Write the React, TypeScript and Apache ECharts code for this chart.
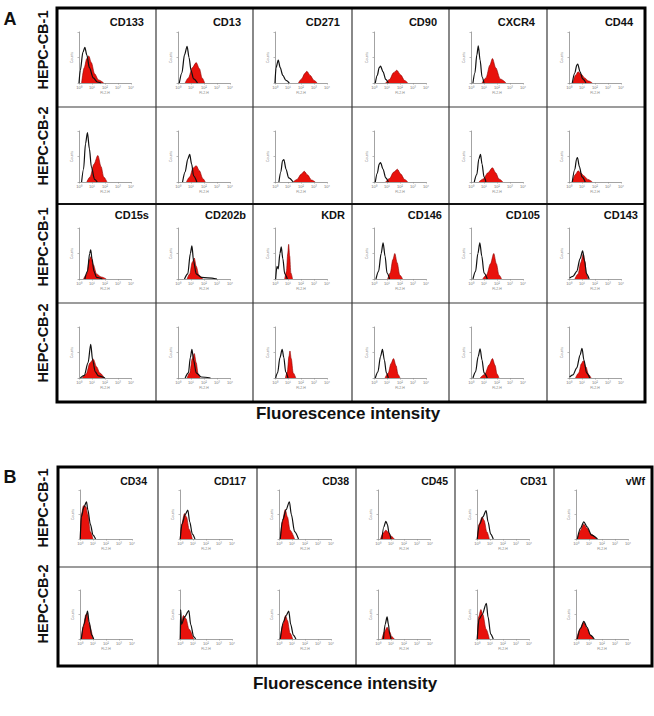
import React, { useEffect, useRef } from "react";
import * as echarts from "echarts";

// ---------- DATA ----------
const markersATop = ["CD133", "CD13", "CD271", "CD90", "CXCR4", "CD44"];
const markersABottom = ["CD15s", "CD202b", "KDR", "CD146", "CD105", "CD143"];
const markersB = ["CD34", "CD117", "CD38", "CD45", "CD31", "vWf"];
const rowLabels = ["HEPC-CB-1", "HEPC-CB-2"];
const decadeLabels = ["10⁰", "10¹", "10²", "10³", "10⁴"];

// x = log10 decade (0..4), y = fraction of counts axis
const A1_iso = [
  [[0, 0], [0.1, 0.25], [0.3, 0.6], [0.45, 0.7], [0.6, 0.55], [0.8, 0.3], [1.1, 0.1], [1.4, 0.02], [1.7, 0]],
  [[0.1, 0], [0.3, 0.2], [0.5, 0.55], [0.7, 0.72], [0.85, 0.5], [1.0, 0.25], [1.2, 0.08], [1.5, 0]],
  [[0, 0], [0.08, 0.3], [0.25, 0.45], [0.4, 0.3], [0.6, 0.15], [0.85, 0.05], [1.1, 0]],
  [[0.1, 0], [0.25, 0.15], [0.4, 0.3], [0.5, 0.33], [0.7, 0.22], [0.9, 0.07], [1.1, 0]],
  [[0.15, 0], [0.3, 0.2], [0.45, 0.55], [0.56, 0.73], [0.7, 0.45], [0.85, 0.12], [1.0, 0]],
  [[0.25, 0], [0.45, 0.2], [0.6, 0.35], [0.67, 0.37], [0.85, 0.22], [1.05, 0.08], [1.3, 0]],
];
const A1_red = [
  [[0.2, 0], [0.4, 0.3], [0.6, 0.48], [0.75, 0.53], [0.95, 0.4], [1.2, 0.18], [1.5, 0.06], [1.9, 0]],
  [[0.55, 0], [0.8, 0.1], [1.1, 0.3], [1.4, 0.4], [1.65, 0.28], [1.85, 0.1], [2.05, 0]],
  [[1.8, 0], [2.05, 0.08], [2.3, 0.19], [2.45, 0.23], [2.7, 0.15], [3.0, 0.05], [3.25, 0]],
  [[0.9, 0], [1.2, 0.07], [1.5, 0.2], [1.75, 0.25], [2.05, 0.16], [2.35, 0.05], [2.6, 0]],
  [[0.85, 0], [1.15, 0.1], [1.45, 0.35], [1.65, 0.48], [1.9, 0.3], [2.25, 0.08], [2.7, 0]],
  [[0.3, 0], [0.5, 0.15], [0.7, 0.22], [0.95, 0.17], [1.2, 0.1], [1.5, 0.04], [1.8, 0]],
];
const A2_iso = [
  [[0.2, 0], [0.35, 0.25], [0.5, 0.75], [0.65, 0.97], [0.8, 0.65], [0.95, 0.3], [1.2, 0.05], [1.4, 0]],
  [[0.35, 0], [0.55, 0.2], [0.75, 0.45], [0.9, 0.54], [1.05, 0.35], [1.2, 0.12], [1.45, 0]],
  [[0.3, 0], [0.45, 0.2], [0.58, 0.42], [0.68, 0.44], [0.85, 0.25], [1.05, 0.08], [1.4, 0]],
  [[0.1, 0], [0.25, 0.17], [0.4, 0.35], [0.5, 0.38], [0.7, 0.25], [0.9, 0.08], [1.1, 0]],
  [[0.25, 0], [0.45, 0.15], [0.6, 0.45], [0.73, 0.54], [0.85, 0.35], [1.0, 0.1], [1.15, 0]],
  [[0.25, 0], [0.45, 0.25], [0.58, 0.45], [0.65, 0.48], [0.8, 0.3], [1.0, 0.1], [1.25, 0]],
];
const A2_red = [
  [[0.6, 0], [0.85, 0.1], [1.15, 0.35], [1.45, 0.52], [1.7, 0.3], [1.9, 0.1], [2.15, 0]],
  [[0.65, 0], [0.9, 0.1], [1.15, 0.27], [1.4, 0.32], [1.65, 0.22], [1.9, 0.07], [2.1, 0]],
  [[1.4, 0], [1.7, 0.05], [2.0, 0.15], [2.25, 0.21], [2.5, 0.14], [2.8, 0.04], [3.1, 0]],
  [[0.9, 0], [1.2, 0.07], [1.5, 0.19], [1.8, 0.25], [2.05, 0.16], [2.35, 0.05], [2.6, 0]],
  [[0.6, 0], [0.95, 0.06], [1.3, 0.18], [1.65, 0.28], [1.9, 0.18], [2.15, 0.06], [2.45, 0]],
  [[0.25, 0], [0.5, 0.15], [0.7, 0.22], [0.9, 0.18], [1.15, 0.12], [1.45, 0.05], [1.8, 0]],
];
const A3_iso = [
  [[0.45, 0], [0.65, 0.15], [0.82, 0.5], [0.9, 0.57], [1.0, 0.4], [1.15, 0.15], [1.35, 0.03], [1.8, 0]],
  [[0.5, 0], [0.75, 0.1], [0.95, 0.5], [1.07, 0.65], [1.2, 0.35], [1.4, 0.1], [1.8, 0.03], [3.0, 0]],
  [[0.05, 0], [0.15, 0.25], [0.25, 0.2], [0.38, 0.5], [0.48, 0.63], [0.6, 0.4], [0.75, 0.1], [0.95, 0]],
  [[0.15, 0], [0.35, 0.15], [0.55, 0.5], [0.7, 0.71], [0.85, 0.45], [1.0, 0.12], [1.2, 0]],
  [[0.15, 0], [0.35, 0.15], [0.53, 0.5], [0.68, 0.71], [0.83, 0.45], [1.0, 0.12], [1.25, 0]],
  [[0.05, 0.02], [0.3, 0.05], [0.6, 0.15], [0.85, 0.4], [1.05, 0.55], [1.2, 0.35], [1.35, 0.1], [1.55, 0]],
];
const A3_red = [
  [[0.35, 0], [0.6, 0.1], [0.8, 0.38], [0.92, 0.44], [1.1, 0.28], [1.35, 0.1], [1.7, 0.04], [2.1, 0]],
  [[0.7, 0], [0.9, 0.1], [1.1, 0.33], [1.25, 0.41], [1.4, 0.25], [1.6, 0.08], [1.9, 0]],
  [[0.75, 0], [0.88, 0.15], [0.98, 0.5], [1.05, 0.68], [1.13, 0.45], [1.22, 0.12], [1.35, 0]],
  [[1.05, 0], [1.25, 0.12], [1.45, 0.38], [1.6, 0.5], [1.78, 0.32], [1.98, 0.08], [2.2, 0]],
  [[0.9, 0], [1.2, 0.08], [1.5, 0.3], [1.75, 0.5], [1.95, 0.3], [2.15, 0.08], [2.35, 0]],
  [[0.45, 0], [0.7, 0.1], [0.9, 0.32], [1.1, 0.49], [1.22, 0.35], [1.32, 0.12], [1.45, 0]],
];
const A4_iso = [
  [[0.1, 0], [0.4, 0.05], [0.7, 0.3], [0.9, 0.66], [1.05, 0.35], [1.25, 0.12], [1.5, 0.04], [2.0, 0]],
  [[0.55, 0], [0.8, 0.1], [0.95, 0.4], [1.07, 0.56], [1.2, 0.35], [1.4, 0.1], [1.8, 0.02], [2.5, 0]],
  [[0.05, 0], [0.2, 0.1], [0.38, 0.4], [0.55, 0.56], [0.68, 0.4], [0.82, 0.12], [1.0, 0]],
  [[0.1, 0], [0.3, 0.12], [0.5, 0.42], [0.65, 0.56], [0.8, 0.35], [0.95, 0.1], [1.1, 0]],
  [[0.15, 0], [0.35, 0.12], [0.55, 0.42], [0.7, 0.57], [0.85, 0.35], [1.0, 0.1], [1.25, 0]],
  [[0.05, 0.02], [0.3, 0.06], [0.6, 0.2], [0.85, 0.45], [1.0, 0.58], [1.15, 0.35], [1.35, 0.1], [1.6, 0]],
];
const A4_red = [
  [[0.25, 0], [0.55, 0.08], [0.85, 0.3], [1.1, 0.37], [1.35, 0.22], [1.6, 0.1], [1.95, 0]],
  [[0.7, 0], [0.9, 0.1], [1.1, 0.38], [1.25, 0.48], [1.4, 0.3], [1.55, 0.08], [1.7, 0]],
  [[0.8, 0], [0.95, 0.12], [1.07, 0.42], [1.15, 0.53], [1.25, 0.38], [1.4, 0.1], [1.6, 0]],
  [[0.85, 0], [1.1, 0.1], [1.3, 0.28], [1.5, 0.38], [1.7, 0.24], [1.85, 0.07], [2.0, 0]],
  [[0.7, 0], [1.05, 0.07], [1.4, 0.26], [1.65, 0.38], [1.85, 0.25], [2.0, 0.08], [2.15, 0]],
  [[0.5, 0], [0.75, 0.1], [0.95, 0.28], [1.1, 0.34], [1.3, 0.22], [1.5, 0.07], [1.7, 0]],
];
const B1_iso = [
  [[0.02, 0], [0.1, 0.45], [0.3, 0.65], [0.5, 0.76], [0.6, 0.6], [0.8, 0.3], [1.0, 0.08], [1.2, 0]],
  [[0.02, 0], [0.15, 0.3], [0.4, 0.5], [0.6, 0.59], [0.75, 0.35], [0.95, 0.1], [1.15, 0]],
  [[0.1, 0], [0.3, 0.4], [0.55, 0.6], [0.8, 0.76], [0.95, 0.5], [1.2, 0.15], [1.5, 0]],
  [[0.3, 0], [0.45, 0.25], [0.6, 0.36], [0.72, 0.3], [0.85, 0.12], [1.0, 0]],
  [[0.02, 0], [0.2, 0.3], [0.45, 0.45], [0.7, 0.58], [0.85, 0.35], [1.05, 0.1], [1.25, 0]],
  [[0.1, 0], [0.35, 0.22], [0.6, 0.35], [0.85, 0.25], [1.2, 0.08], [1.65, 0]],
];
const B1_red = [
  [[0.02, 0], [0.1, 0.5], [0.27, 0.68], [0.45, 0.66], [0.6, 0.5], [0.8, 0.15], [1.0, 0]],
  [[0.02, 0], [0.12, 0.3], [0.35, 0.52], [0.5, 0.45], [0.7, 0.2], [0.95, 0]],
  [[0.1, 0], [0.25, 0.35], [0.48, 0.6], [0.65, 0.45], [0.85, 0.18], [1.2, 0]],
  [[0.2, 0], [0.4, 0.12], [0.6, 0.18], [0.8, 0.14], [1.0, 0.06], [1.25, 0]],
  [[0.02, 0], [0.15, 0.3], [0.4, 0.45], [0.55, 0.38], [0.75, 0.15], [0.95, 0]],
  [[0.1, 0], [0.35, 0.18], [0.6, 0.3], [0.85, 0.22], [1.15, 0.1], [1.6, 0]],
];
const B2_iso = [
  [[0.1, 0], [0.3, 0.3], [0.5, 0.5], [0.58, 0.57], [0.7, 0.35], [0.9, 0.08], [1.05, 0]],
  [[0.02, 0], [0.05, 0.6], [0.12, 0.3], [0.35, 0.45], [0.68, 0.58], [0.82, 0.3], [1.05, 0.05], [1.2, 0]],
  [[0.1, 0], [0.35, 0.35], [0.55, 0.48], [0.75, 0.57], [0.9, 0.3], [1.1, 0.08], [1.3, 0]],
  [[0.42, 0], [0.55, 0.3], [0.7, 0.45], [0.8, 0.3], [0.9, 0.1], [1.0, 0]],
  [[0.02, 0], [0.15, 0.4], [0.4, 0.5], [0.72, 0.73], [0.85, 0.45], [1.05, 0.1], [1.25, 0]],
  [[0.1, 0], [0.35, 0.22], [0.6, 0.36], [0.85, 0.24], [1.1, 0.08], [1.4, 0]],
];
const B2_red = [
  [[0.1, 0], [0.25, 0.25], [0.45, 0.5], [0.55, 0.52], [0.7, 0.3], [1.0, 0]],
  [[0.02, 0], [0.1, 0.35], [0.27, 0.48], [0.45, 0.42], [0.7, 0.2], [1.05, 0]],
  [[0.1, 0], [0.3, 0.3], [0.5, 0.48], [0.65, 0.38], [0.85, 0.12], [1.05, 0]],
  [[0.3, 0], [0.5, 0.15], [0.7, 0.24], [0.9, 0.15], [1.05, 0.05], [1.25, 0]],
  [[0.02, 0], [0.12, 0.45], [0.3, 0.6], [0.45, 0.5], [0.7, 0.2], [0.95, 0]],
  [[0.05, 0], [0.3, 0.2], [0.6, 0.34], [0.85, 0.22], [1.1, 0.08], [1.35, 0]],
];

// ---------- LAYOUT ----------
const FONT = "'Liberation Sans', Arial, sans-serif";
const layoutA = { cols: [57, 156, 253, 352, 449, 547, 645], rows: [8, 107, 204, 303, 402] };
const layoutB = { cols: [58, 158, 257, 356, 455, 554, 652], rows: [467, 567, 666] };

export default function App() {
  const ref = useRef<HTMLDivElement>(null);

  useEffect(() => {
    if (!ref.current) return;
    const chart = echarts.init(ref.current, undefined, { renderer: "svg" });

    const grids: any[] = [];
    const xAxes: any[] = [];
    const yAxes: any[] = [];
    const series: any[] = [];
    const graphic: any[] = [];

    const addPlot = (left: number, top: number, height: number, iso: number[][], red: number[][]) => {
      const i = grids.length;
      grids.push({ left, top, width: 52, height });
      xAxes.push({
        gridIndex: i, type: "value", min: 0, max: 4, interval: 1,
        axisLine: { show: true, lineStyle: { color: "#8c8c8c", width: 0.8 } },
        axisTick: { show: true, length: 1.5, lineStyle: { color: "#8c8c8c", width: 0.6 } },
        axisLabel: { fontSize: 4, color: "#777", margin: 2, fontFamily: FONT, formatter: (v: number) => decadeLabels[v] ?? "" },
        splitLine: { show: false },
        name: "FL2-H", nameLocation: "middle", nameGap: 8,
        nameTextStyle: { fontSize: 3.5, color: "#888", fontFamily: FONT },
      });
      yAxes.push({
        gridIndex: i, type: "value", min: 0, max: 1, interval: 0.5,
        axisLine: { show: true, lineStyle: { color: "#8c8c8c", width: 0.8 } },
        axisTick: { show: true, length: 1.5, lineStyle: { color: "#8c8c8c", width: 0.6 } },
        axisLabel: { show: false },
        splitLine: { show: false },
        name: "Counts", nameLocation: "middle", nameGap: 5, nameRotate: 90,
        nameTextStyle: { fontSize: 3.5, color: "#888", fontFamily: FONT },
      });
      series.push({
        type: "line", xAxisIndex: i, yAxisIndex: i, data: red, smooth: 0.3, smoothMonotone: "x",
        symbol: "none", showSymbol: false, silent: true, z: 2,
        lineStyle: { color: "#8a0000", width: 0.6 },
        areaStyle: { color: "#e8120c", opacity: 1 },
      });
      series.push({
        type: "line", xAxisIndex: i, yAxisIndex: i, data: iso, smooth: 0.3, smoothMonotone: "x",
        symbol: "none", showSymbol: false, silent: true, z: 3,
        lineStyle: { color: "#111", width: 1.2 },
      });
    };

    // Panel A
    const aIso = [A1_iso, A2_iso, A3_iso, A4_iso];
    const aRed = [A1_red, A2_red, A3_red, A4_red];
    for (let r = 0; r < 4; r++) {
      for (let c = 0; c < 6; c++) {
        const x0 = layoutA.cols[c];
        const y0 = layoutA.rows[r];
        addPlot(x0 + 22, y0 + 24, 51, aIso[r][c], aRed[r][c]);
        if (r === 0 || r === 2) {
          const name = r === 0 ? markersATop[c] : markersABottom[c];
          const pad = r === 0 ? 12 : 7;
          graphic.push({
            type: "text", x: layoutA.cols[c + 1] - pad, y: y0 + (r === 0 ? 14 : 11),
            style: { text: name, fill: "#111", font: `bold 11px ${FONT}`, textAlign: "right", textVerticalAlign: "middle" },
          });
        }
      }
    }
    // Panel B
    const bIso = [B1_iso, B2_iso];
    const bRed = [B1_red, B2_red];
    for (let r = 0; r < 2; r++) {
      for (let c = 0; c < 6; c++) {
        const x0 = layoutB.cols[c];
        const y0 = layoutB.rows[r];
        addPlot(x0 + 22, y0 + 23, 49, bIso[r][c], bRed[r][c]);
        if (r === 0) {
          const pad = c < 2 ? 11 : 7;
          graphic.push({
            type: "text", x: layoutB.cols[c + 1] - pad, y: y0 + 14,
            style: { text: markersB[c], fill: "#111", font: `bold 10.5px ${FONT}`, textAlign: "right", textVerticalAlign: "middle" },
          });
        }
      }
    }

    // Frames and dividers
    const addFrame = (L: { cols: number[]; rows: number[] }, thickRow: number) => {
      const x0 = L.cols[0], x1 = L.cols[L.cols.length - 1];
      const y0 = L.rows[0], y1 = L.rows[L.rows.length - 1];
      for (let c = 1; c < L.cols.length - 1; c++) {
        graphic.push({ type: "line", shape: { x1: L.cols[c], y1: y0, x2: L.cols[c], y2: y1 }, style: { stroke: "#3a3a3a", lineWidth: 1.2 } });
      }
      for (let r = 1; r < L.rows.length - 1; r++) {
        const thick = r === thickRow;
        graphic.push({ type: "line", shape: { x1: x0, y1: L.rows[r], x2: x1, y2: L.rows[r] }, style: { stroke: thick ? "#111" : "#3a3a3a", lineWidth: thick ? 2.2 : 1.2 } });
      }
      graphic.push({ type: "rect", shape: { x: x0, y: y0, width: x1 - x0, height: y1 - y0 }, style: { fill: "none", stroke: "#000", lineWidth: 3 } });
    };
    addFrame(layoutA, 2);
    addFrame(layoutB, -1);

    // Panel letters
    graphic.push({ type: "text", x: 10, y: 19, style: { text: "A", fill: "#111", font: `bold 18px ${FONT}`, textAlign: "center", textVerticalAlign: "middle" } });
    graphic.push({ type: "text", x: 10, y: 477, style: { text: "B", fill: "#111", font: `bold 18px ${FONT}`, textAlign: "center", textVerticalAlign: "middle" } });

    // Row labels (rotated)
    const rowLabelCenters = [50, 146, 247, 343, 508, 604];
    rowLabelCenters.forEach((cy, k) => {
      graphic.push({
        type: "text", x: 43, y: cy, rotation: Math.PI / 2,
        style: { text: rowLabels[k % 2], fill: "#111", font: `bold 14.5px ${FONT}`, textAlign: "center", textVerticalAlign: "middle" },
      });
    });

    // Axis captions
    graphic.push({ type: "text", x: 348, y: 413, style: { text: "Fluorescence intensity", fill: "#111", font: `bold 17px ${FONT}`, textAlign: "center", textVerticalAlign: "middle" } });
    graphic.push({ type: "text", x: 345, y: 683, style: { text: "Fluorescence intensity", fill: "#111", font: `bold 17px ${FONT}`, textAlign: "center", textVerticalAlign: "middle" } });

    chart.setOption({
      animation: false,
      backgroundColor: "#fff",
      grid: grids,
      xAxis: xAxes,
      yAxis: yAxes,
      series,
      graphic,
    });

    return () => chart.dispose();
  }, []);

  return <div ref={ref} style={{ position: "absolute", left: 0, top: 0, width: 654, height: 716 }} />;
}
